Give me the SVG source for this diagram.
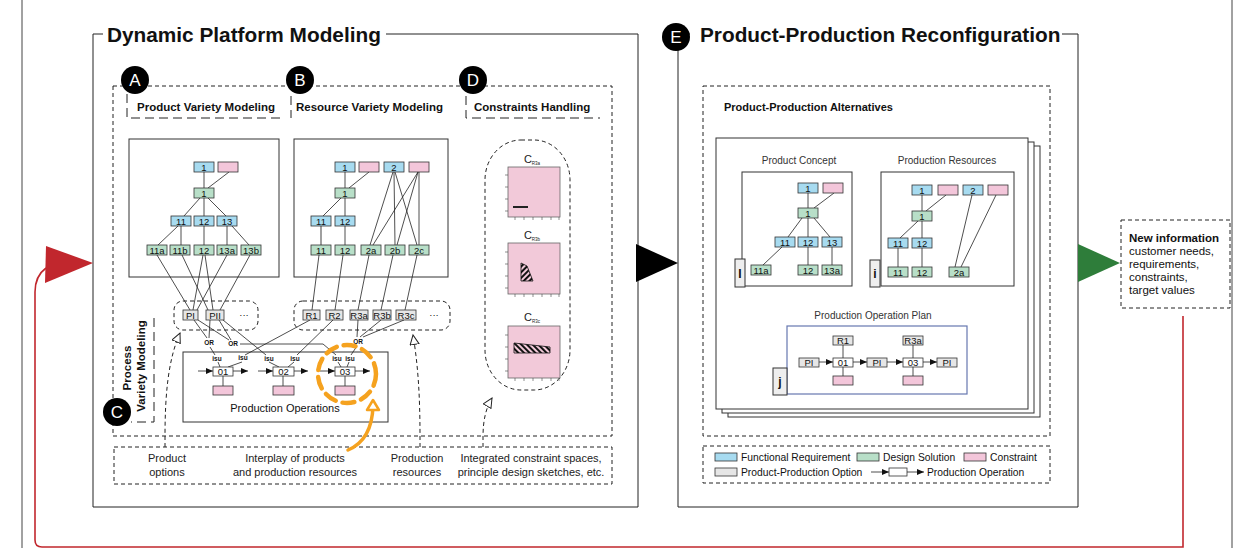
<svg xmlns="http://www.w3.org/2000/svg" width="1243" height="560" viewBox="0 0 1243 560">
<defs>
<style>
text{font-family:"Liberation Sans",Arial,sans-serif;fill:#111}
.title{font-size:20.8px;font-weight:bold}
.hdr{font-size:11.5px;font-weight:bold}
.frame{fill:none;stroke:#222;stroke-width:1}
.dash{fill:none;stroke:#222;stroke-width:1;stroke-dasharray:4 3}
.ldash{fill:none;stroke:#222;stroke-width:1;stroke-dasharray:9 5}
.fr{fill:#A7DBF0;stroke:#333;stroke-width:0.8}
.ds{fill:#B8DFC8;stroke:#333;stroke-width:0.8}
.cn{fill:#F3C6DA;stroke:#333;stroke-width:0.8}
.op{fill:#E6E6E6;stroke:#333;stroke-width:0.8}
.wo{fill:#fff;stroke:#333;stroke-width:0.8}
.nt{font-size:9.5px;text-anchor:middle}
.ln{stroke:#222;stroke-width:0.8;fill:none}
.box{fill:#fff;stroke:#333;stroke-width:1}
.tiny{font-size:6.5px;font-weight:bold;text-anchor:middle}
.lbl{font-size:11px;text-anchor:middle;fill:#222}
.sub{font-size:10px;text-anchor:middle;fill:#333}
.circ{fill:#000}
.ctext{font-size:17px;fill:#fff;text-anchor:middle}
.leg{font-size:10.3px;fill:#111}
.plot{fill:#F2C9D9;stroke:#666;stroke-width:0.8}
.tick{stroke:#444;stroke-width:0.6}
.ct{font-size:11px;text-anchor:middle;fill:#222}
.tab{fill:#EEEEEE;stroke:#333;stroke-width:1}
.tabt{font-size:12px;font-weight:bold;text-anchor:middle}
</style>
<marker id="ah" markerUnits="userSpaceOnUse" markerWidth="7" markerHeight="6" refX="7" refY="3" orient="auto">
<path d="M0,0 L7,3 L0,6 z" fill="#111"/>
</marker>
<marker id="oh" markerUnits="userSpaceOnUse" markerWidth="12" markerHeight="12" refX="10" refY="5" orient="auto">
<path d="M0.5,0.5 L10,5 L0.5,9.5 z" fill="#fff" stroke="#222" stroke-width="1"/>
</marker>
<pattern id="hatchA" patternUnits="userSpaceOnUse" width="4" height="4" patternTransform="rotate(45)">
<rect width="4" height="4" fill="#F2C9D9"/>
<rect width="2" height="4" fill="#111"/>
</pattern>
<pattern id="hatchB" patternUnits="userSpaceOnUse" width="4" height="4" patternTransform="rotate(-45)">
<rect width="4" height="4" fill="#F2C9D9"/>
<rect width="2" height="4" fill="#111"/>
</pattern>
</defs>
<rect width="1243" height="560" fill="#fff"/>

<g id="outer-frame">
<line x1="22" y1="0" x2="22" y2="548" stroke="#444" stroke-width="1"/>
<line x1="1232" y1="0" x2="1232" y2="548" stroke="#444" stroke-width="1"/>
</g>

<!-- Left panel -->
<g id="panel-dpm">
<path class="frame" d="M103,34 H93 V507 H638 V34 H386"/>
<text class="title" x="107" y="42">Dynamic Platform Modeling</text>
<rect class="dash" x="113" y="86" width="499" height="350"/>
<path class="ldash" d="M127,94 V118 H282"/>
<path class="ldash" d="M291,96 V118"/>
<path class="ldash" d="M466,96 V118 H600"/>
<text class="hdr" x="137" y="111">Product Variety Modeling</text>
<text class="hdr" x="296" y="111">Resource Variety Modeling</text>
<text class="hdr" x="474" y="111">Constraints Handling</text>
<g id="badge-A"><circle class="circ" cx="135" cy="80" r="14"/><text class="ctext" x="135" y="86">A</text></g>
<g id="badge-B"><circle class="circ" cx="300" cy="80" r="14"/><text class="ctext" x="300" y="86">B</text></g>
<g id="badge-D"><circle class="circ" cx="473" cy="80" r="14"/><text class="ctext" x="473" y="86">D</text></g>
<path class="ldash" d="M154,318 V422 H131"/>
<text class="hdr" transform="translate(131,368) rotate(-90)" text-anchor="middle">Process</text>
<text class="hdr" transform="translate(145,366) rotate(-90)" text-anchor="middle">Variety Modeling</text>
<g id="badge-C"><circle class="circ" cx="117" cy="412" r="14"/><text class="ctext" x="117" y="418">C</text></g>
<rect class="dash" x="114" y="447" width="498" height="37"/>
<text class="lbl" x="167" y="462">Product</text>
<text class="lbl" x="167" y="476">options</text>
<text class="lbl" x="295" y="462">Interplay of products</text>
<text class="lbl" x="295" y="476">and production resources</text>
<text class="lbl" x="417" y="462">Production</text>
<text class="lbl" x="417" y="476">resources</text>
<text class="lbl" x="531" y="462">Integrated constraint spaces,</text>
<text class="lbl" x="531" y="476">principle design sketches, etc.</text>
</g>

<!-- Product variety tree -->
<g id="product-tree">
<rect class="box" x="129" y="139" width="150" height="138"/>
<g class="ln">
<line x1="204" y1="172" x2="204" y2="188"/>
<line x1="229" y1="172" x2="208" y2="188"/>
<line x1="200" y1="198" x2="184" y2="216"/>
<line x1="204" y1="198" x2="204" y2="216"/>
<line x1="208" y1="198" x2="226" y2="216"/>
<line x1="178" y1="226" x2="158" y2="245"/>
<line x1="181" y1="226" x2="181" y2="245"/>
<line x1="204" y1="226" x2="204" y2="245"/>
<line x1="227" y1="226" x2="227" y2="245"/>
<line x1="232" y1="226" x2="249" y2="245"/>
</g>
<g id="p-fr1"><rect class="fr" x="194" y="162" width="20" height="10"/><text class="nt" x="204" y="170.5">1</text></g>
<g id="p-c1"><rect class="cn" x="218" y="162" width="20" height="10"/></g>
<g id="p-ds1"><rect class="ds" x="194" y="188" width="20" height="10"/><text class="nt" x="204" y="196.5">1</text></g>
<g id="p-fr11"><rect class="fr" x="171" y="216" width="20" height="10"/><text class="nt" x="181" y="224.5">11</text></g>
<g id="p-fr12"><rect class="fr" x="194" y="216" width="20" height="10"/><text class="nt" x="204" y="224.5">12</text></g>
<g id="p-fr13"><rect class="fr" x="217" y="216" width="20" height="10"/><text class="nt" x="227" y="224.5">13</text></g>
<g id="p-ds11a"><rect class="ds" x="147" y="245" width="20" height="10"/><text class="nt" x="157" y="253.5">11a</text></g>
<g id="p-ds11b"><rect class="ds" x="170" y="245" width="20" height="10"/><text class="nt" x="180" y="253.5">11b</text></g>
<g id="p-ds12"><rect class="ds" x="194" y="245" width="20" height="10"/><text class="nt" x="204" y="253.5">12</text></g>
<g id="p-ds13a"><rect class="ds" x="217" y="245" width="20" height="10"/><text class="nt" x="227" y="253.5">13a</text></g>
<g id="p-ds13b"><rect class="ds" x="241" y="245" width="20" height="10"/><text class="nt" x="251" y="253.5">13b</text></g>
</g>

<!-- Resource variety tree -->
<g id="resource-tree">
<rect class="box" x="294" y="139" width="154" height="138"/>
<g class="ln">
<line x1="345" y1="172" x2="345" y2="188"/>
<line x1="369" y1="172" x2="349" y2="188"/>
<line x1="341" y1="198" x2="323" y2="216"/>
<line x1="345" y1="198" x2="345" y2="216"/>
<line x1="321" y1="226" x2="321" y2="245" stroke="#777" stroke-width="1.4"/>
<line x1="345" y1="226" x2="345" y2="245"/>
<line x1="393" y1="172" x2="370" y2="245"/>
<line x1="394" y1="172" x2="395" y2="245"/>
<line x1="395" y1="172" x2="417" y2="245"/>
<line x1="418" y1="172" x2="373" y2="245"/>
<line x1="418" y1="172" x2="397" y2="245"/>
<line x1="419" y1="172" x2="419" y2="245"/>
</g>
<g id="r-fr1"><rect class="fr" x="335" y="162" width="20" height="10"/><text class="nt" x="345" y="170.5">1</text></g>
<g id="r-c1"><rect class="cn" x="359" y="162" width="20" height="10"/></g>
<g id="r-fr2"><rect class="fr" x="384" y="162" width="20" height="10"/><text class="nt" x="394" y="170.5">2</text></g>
<g id="r-c2"><rect class="cn" x="409" y="162" width="20" height="10"/></g>
<g id="r-ds1"><rect class="ds" x="335" y="188" width="20" height="10"/><text class="nt" x="345" y="196.5">1</text></g>
<g id="r-fr11"><rect class="fr" x="311" y="216" width="20" height="10"/><text class="nt" x="321" y="224.5">11</text></g>
<g id="r-fr12"><rect class="fr" x="335" y="216" width="20" height="10"/><text class="nt" x="345" y="224.5">12</text></g>
<g id="r-ds11"><rect class="ds" x="311" y="245" width="20" height="10"/><text class="nt" x="321" y="253.5">11</text></g>
<g id="r-ds12"><rect class="ds" x="335" y="245" width="20" height="10"/><text class="nt" x="345" y="253.5">12</text></g>
<g id="r-ds2a"><rect class="ds" x="361" y="245" width="20" height="10"/><text class="nt" x="371" y="253.5">2a</text></g>
<g id="r-ds2b"><rect class="ds" x="385" y="245" width="20" height="10"/><text class="nt" x="395" y="253.5">2b</text></g>
<g id="r-ds2c"><rect class="ds" x="409" y="245" width="20" height="10"/><text class="nt" x="419" y="253.5">2c</text></g>
</g>

<!-- Production operations container (drawn before connectors) -->
<g id="production-operations-box">
<rect class="box" x="183" y="352" width="205" height="70"/>
<text x="285" y="412" font-size="11" text-anchor="middle" fill="#444">Production Operations</text>
</g>

<!-- Connectors (left panel) -->
<g id="connectors-left" class="ln">
<line x1="157" y1="255" x2="190" y2="310"/>
<line x1="182" y1="255" x2="208" y2="310"/>
<line x1="203" y1="255" x2="193" y2="310"/>
<line x1="205" y1="255" x2="213" y2="310"/>
<line x1="227" y1="255" x2="197" y2="310"/>
<line x1="250" y1="255" x2="220" y2="310"/>
<line x1="319" y1="255" x2="312" y2="310"/>
<line x1="343" y1="255" x2="335" y2="310"/>
<line x1="369" y1="255" x2="358" y2="310"/>
<line x1="393" y1="255" x2="381" y2="310"/>
<line x1="417" y1="255" x2="405" y2="310"/>
<line x1="194" y1="320" x2="207" y2="338"/>
<line x1="210" y1="320" x2="209" y2="338"/>
<line x1="198" y1="320" x2="229" y2="340"/>
<line x1="219" y1="320" x2="231" y2="340"/>
<line x1="223" y1="320" x2="266" y2="355"/>
<line x1="210" y1="347" x2="215" y2="355"/>
<polyline points="240,344 323,344 336,355"/>
<line x1="310" y1="320" x2="245" y2="355"/>
<line x1="333" y1="320" x2="297" y2="355"/>
<line x1="358" y1="320" x2="357" y2="337"/>
<line x1="381" y1="320" x2="360" y2="337"/>
<line x1="404" y1="320" x2="363" y2="337"/>
<line x1="357" y1="346" x2="351" y2="355"/>
<line x1="218" y1="362" x2="220" y2="367"/>
<line x1="242" y1="362" x2="228" y2="367"/>
<line x1="269" y1="362" x2="279" y2="367"/>
<line x1="294" y1="362" x2="288" y2="367"/>
<line x1="338" y1="362" x2="341" y2="367"/>
<line x1="349" y1="362" x2="347" y2="367"/>
<line x1="223" y1="376" x2="223" y2="386"/>
<line x1="283" y1="376" x2="283" y2="386"/>
<line x1="345" y1="376" x2="345" y2="386"/>
<line x1="198" y1="371" x2="213" y2="371" marker-end="url(#ah)"/>
<line x1="233" y1="371" x2="248" y2="371" marker-end="url(#ah)"/>
<line x1="258" y1="371" x2="273" y2="371" marker-end="url(#ah)"/>
<line x1="294" y1="371" x2="308" y2="371" marker-end="url(#ah)"/>
<line x1="320" y1="371" x2="335" y2="371" marker-end="url(#ah)"/>
<line x1="355" y1="371" x2="370" y2="371" marker-end="url(#ah)"/>
<path class="dash" d="M165,447 V437 C165,395 168,360 180,333" marker-end="url(#oh)"/>
<path class="dash" d="M420,447 V437 C420,395 418,365 413,335" marker-end="url(#oh)"/>
<path class="dash" d="M483,447 V437 C483,420 486,408 492,398" marker-end="url(#oh)"/>
</g>

<!-- Options -->
<g id="product-options">
<rect class="dash" x="174" y="301" width="84" height="29" rx="9"/>
<g id="opt-PI"><rect class="op" x="183" y="310" width="15" height="10"/><text class="nt" x="190.5" y="318.5">PI</text></g>
<g id="opt-PII"><rect class="op" x="206" y="310" width="18" height="10"/><text class="nt" x="215" y="318.5">PII</text></g>
<text class="nt" x="244" y="318">···</text>
</g>
<g id="resource-options">
<rect class="dash" x="294" y="301" width="156" height="29" rx="9"/>
<g id="opt-R1"><rect class="op" x="303" y="310" width="17" height="10"/><text class="nt" x="311.5" y="318.5">R1</text></g>
<g id="opt-R2"><rect class="op" x="326" y="310" width="17" height="10"/><text class="nt" x="334.5" y="318.5">R2</text></g>
<g id="opt-R3a"><rect class="op" x="350" y="310" width="18" height="10"/><text class="nt" x="359" y="318.5">R3a</text></g>
<g id="opt-R3b"><rect class="op" x="373" y="310" width="18" height="10"/><text class="nt" x="382" y="318.5">R3b</text></g>
<g id="opt-R3c"><rect class="op" x="396" y="310" width="20" height="10"/><text class="nt" x="406" y="318.5">R3c</text></g>
<text class="nt" x="434" y="318">···</text>
</g>

<!-- Production operations nodes -->
<g id="production-operations">
<g id="op-01"><rect class="wo" x="213" y="367" width="20" height="9"/><text class="nt" x="223" y="375">01</text></g>
<g id="op-02"><rect class="wo" x="273" y="367" width="21" height="9"/><text class="nt" x="283.5" y="375">02</text></g>
<g id="op-03"><rect class="wo" x="335" y="367" width="20" height="9"/><text class="nt" x="345" y="375">03</text></g>
<rect class="cn" x="213" y="386" width="20" height="9"/>
<rect class="cn" x="273" y="386" width="21" height="9"/>
<rect class="cn" x="335" y="386" width="20" height="9"/>
<text class="tiny" x="217" y="361">isu</text>
<text class="tiny" x="243" y="360">isu</text>
<text class="tiny" x="269" y="361">isu</text>
<text class="tiny" x="295" y="361">isu</text>
<text class="tiny" x="337" y="361">isu</text>
<text class="tiny" x="350" y="361">isu</text>
<text class="tiny" x="209" y="345">OR</text>
<text class="tiny" x="233" y="346">OR</text>
<text class="tiny" x="358" y="344">OR</text>
</g>

<g id="highlight">
<circle cx="347" cy="374" r="29" fill="none" stroke="#F5A21F" stroke-width="4.5" stroke-dasharray="12 7" stroke-linecap="round"/>
<path d="M348,450 Q372,440 373,406" fill="none" stroke="#F5A21F" stroke-width="3.5" stroke-linecap="round"/>
<path d="M367,410 L373,400 L379,410 Z" fill="#fff" stroke="#F5A21F" stroke-width="2.5" stroke-linejoin="round"/>
</g>

<!-- Constraints handling -->
<g id="constraints">
<rect class="dash" x="485" y="140" width="85" height="250" rx="36" ry="40"/>
<g id="chart-R3a">
<text class="ct" x="532" y="163">C<tspan font-size="4.5" dy="1.5">R3a</tspan></text>
<rect class="plot" x="508" y="167" width="52" height="50"/>
<g class="tick"><line x1="505" y1="175" x2="508" y2="175"/><line x1="505" y1="187" x2="508" y2="187"/><line x1="505" y1="199" x2="508" y2="199"/><line x1="505" y1="211" x2="508" y2="211"/>
<line x1="515" y1="217" x2="515" y2="220"/><line x1="524" y1="217" x2="524" y2="220"/><line x1="533" y1="217" x2="533" y2="220"/><line x1="542" y1="217" x2="542" y2="220"/><line x1="551" y1="217" x2="551" y2="220"/><line x1="559" y1="217" x2="559" y2="220"/></g>
<line x1="513" y1="207" x2="528" y2="207" stroke="#222" stroke-width="2"/>
</g>
<g id="chart-R3b">
<text class="ct" x="532" y="239">C<tspan font-size="4.5" dy="1.5">R3b</tspan></text>
<rect class="plot" x="508" y="243" width="52" height="51"/>
<g class="tick"><line x1="505" y1="252" x2="508" y2="252"/><line x1="505" y1="264" x2="508" y2="264"/><line x1="505" y1="276" x2="508" y2="276"/><line x1="505" y1="288" x2="508" y2="288"/>
<line x1="515" y1="294" x2="515" y2="297"/><line x1="524" y1="294" x2="524" y2="297"/><line x1="533" y1="294" x2="533" y2="297"/><line x1="542" y1="294" x2="542" y2="297"/><line x1="551" y1="294" x2="551" y2="297"/><line x1="559" y1="294" x2="559" y2="297"/></g>
<polygon points="521,263 527,266 533,281 521,281" fill="url(#hatchA)" stroke="#111" stroke-width="0.8"/>
</g>
<g id="chart-R3c">
<text class="ct" x="532" y="321">C<tspan font-size="4.5" dy="1.5">R3c</tspan></text>
<rect class="plot" x="508" y="326" width="52" height="52"/>
<g class="tick"><line x1="505" y1="335" x2="508" y2="335"/><line x1="505" y1="347" x2="508" y2="347"/><line x1="505" y1="359" x2="508" y2="359"/><line x1="505" y1="371" x2="508" y2="371"/>
<line x1="515" y1="378" x2="515" y2="381"/><line x1="524" y1="378" x2="524" y2="381"/><line x1="533" y1="378" x2="533" y2="381"/><line x1="542" y1="378" x2="542" y2="381"/><line x1="551" y1="378" x2="551" y2="381"/><line x1="559" y1="378" x2="559" y2="381"/></g>
<polygon points="514,343 550,347 550,353 514,353" fill="url(#hatchB)" stroke="#111" stroke-width="0.8"/>
</g>
</g>

<!-- Right panel -->
<g id="panel-ppr">
<path class="frame" d="M690,34 H678 V507 H1078 V34 H1062"/>
<text class="title" x="700" y="42">Product-Production Reconfiguration</text>
<g id="badge-E"><circle class="circ" cx="676" cy="37" r="14"/><text class="ctext" x="676" y="43">E</text></g>
<rect class="dash" x="703" y="86" width="347" height="350"/>
<text x="724" y="111" font-size="11" font-weight="bold">Product-Production Alternatives</text>
<rect class="box" x="728" y="146" width="312" height="271"/>
<rect class="box" x="722" y="142" width="312" height="271"/>
<rect class="box" x="716" y="138" width="312" height="271"/>
</g>

<g id="product-concept">
<text class="sub" x="799" y="164">Product Concept</text>
<rect class="box" x="742" y="172" width="110" height="114"/>
<g class="ln">
<line x1="808" y1="193" x2="808" y2="208"/>
<line x1="834" y1="193" x2="814" y2="208"/>
<line x1="802" y1="218" x2="788" y2="237"/>
<line x1="808" y1="218" x2="808" y2="237"/>
<line x1="814" y1="218" x2="830" y2="237"/>
<line x1="782" y1="247" x2="763" y2="265"/>
<line x1="808" y1="247" x2="808" y2="265"/>
<line x1="832" y1="247" x2="832" y2="265"/>
</g>
<g id="pc-fr1"><rect class="fr" x="798" y="183" width="20" height="10"/><text class="nt" x="808" y="191.5">1</text></g>
<g id="pc-c1"><rect class="cn" x="823" y="183" width="20" height="10"/></g>
<g id="pc-ds1"><rect class="ds" x="798" y="208" width="20" height="10"/><text class="nt" x="808" y="216.5">1</text></g>
<g id="pc-fr11"><rect class="fr" x="775" y="237" width="20" height="10"/><text class="nt" x="785" y="245.5">11</text></g>
<g id="pc-fr12"><rect class="fr" x="798" y="237" width="20" height="10"/><text class="nt" x="808" y="245.5">12</text></g>
<g id="pc-fr13"><rect class="fr" x="822" y="237" width="20" height="10"/><text class="nt" x="832" y="245.5">13</text></g>
<g id="pc-ds11a"><rect class="ds" x="751" y="265" width="20" height="10"/><text class="nt" x="761" y="273.5">11a</text></g>
<g id="pc-ds12"><rect class="ds" x="798" y="265" width="20" height="10"/><text class="nt" x="808" y="273.5">12</text></g>
<g id="pc-ds13a"><rect class="ds" x="822" y="265" width="20" height="10"/><text class="nt" x="832" y="273.5">13a</text></g>
<g id="tab-l"><rect class="tab" x="735" y="259" width="10" height="28"/><text class="tabt" x="740" y="278">I</text></g>
</g>

<g id="production-resources">
<text class="sub" x="947" y="164">Production Resources</text>
<rect class="box" x="881" y="172" width="133" height="114"/>
<g class="ln">
<line x1="922" y1="195" x2="922" y2="211"/>
<line x1="946" y1="195" x2="926" y2="211"/>
<line x1="918" y1="221" x2="900" y2="238"/>
<line x1="922" y1="221" x2="922" y2="238"/>
<line x1="898" y1="248" x2="898" y2="267"/>
<line x1="922" y1="248" x2="922" y2="267"/>
<line x1="972" y1="195" x2="955" y2="267"/>
<line x1="996" y1="195" x2="961" y2="267"/>
</g>
<g id="pr-fr1"><rect class="fr" x="912" y="185" width="20" height="10"/><text class="nt" x="922" y="193.5">1</text></g>
<g id="pr-c1"><rect class="cn" x="938" y="185" width="20" height="10"/></g>
<g id="pr-fr2"><rect class="fr" x="963" y="185" width="20" height="10"/><text class="nt" x="973" y="193.5">2</text></g>
<g id="pr-c2"><rect class="cn" x="988" y="185" width="20" height="10"/></g>
<g id="pr-ds1"><rect class="ds" x="912" y="211" width="20" height="10"/><text class="nt" x="922" y="219.5">1</text></g>
<g id="pr-fr11"><rect class="fr" x="888" y="238" width="20" height="10"/><text class="nt" x="898" y="246.5">11</text></g>
<g id="pr-fr12"><rect class="fr" x="912" y="238" width="20" height="10"/><text class="nt" x="922" y="246.5">12</text></g>
<g id="pr-ds11"><rect class="ds" x="888" y="267" width="20" height="10"/><text class="nt" x="898" y="275.5">11</text></g>
<g id="pr-ds12"><rect class="ds" x="912" y="267" width="20" height="10"/><text class="nt" x="922" y="275.5">12</text></g>
<g id="pr-ds2a"><rect class="ds" x="949" y="267" width="20" height="10"/><text class="nt" x="959" y="275.5">2a</text></g>
<g id="tab-i"><rect class="tab" x="870" y="260" width="10" height="27"/><text class="tabt" x="875" y="278">i</text></g>
</g>

<g id="production-operation-plan">
<text class="sub" x="873" y="319">Production Operation Plan</text>
<rect x="787" y="326" width="180" height="68" fill="#fff" stroke="#6677B0" stroke-width="1.2"/>
<g class="ln">
<line x1="843" y1="345" x2="843" y2="358"/>
<line x1="843" y1="367" x2="843" y2="376"/>
<line x1="913" y1="345" x2="913" y2="358"/>
<line x1="913" y1="367" x2="913" y2="376"/>
<line x1="819" y1="362" x2="833" y2="362" marker-end="url(#ah)"/>
<line x1="853" y1="362" x2="867" y2="362" marker-end="url(#ah)"/>
<line x1="887" y1="362" x2="903" y2="362" marker-end="url(#ah)"/>
<line x1="923" y1="362" x2="937" y2="362" marker-end="url(#ah)"/>
</g>
<g id="pop-R1"><rect class="op" x="833" y="336" width="20" height="9"/><text class="nt" x="843" y="344">R1</text></g>
<g id="pop-R3a"><rect class="op" x="903" y="336" width="20" height="9"/><text class="nt" x="913" y="344">R3a</text></g>
<g id="pop-PI1"><rect class="op" x="799" y="358" width="20" height="9"/><text class="nt" x="809" y="366">PI</text></g>
<g id="pop-01"><rect class="wo" x="833" y="358" width="20" height="9"/><text class="nt" x="843" y="366">01</text></g>
<g id="pop-PI2"><rect class="op" x="867" y="358" width="20" height="9"/><text class="nt" x="877" y="366">PI</text></g>
<g id="pop-03"><rect class="wo" x="903" y="358" width="20" height="9"/><text class="nt" x="913" y="366">03</text></g>
<g id="pop-PI3"><rect class="op" x="937" y="358" width="20" height="9"/><text class="nt" x="947" y="366">PI</text></g>
<rect class="cn" x="833" y="376" width="20" height="9"/>
<rect class="cn" x="903" y="376" width="20" height="9"/>
<g id="tab-j"><rect class="tab" x="773" y="368" width="14" height="27"/><text class="tabt" x="780" y="386">j</text></g>
</g>

<g id="legend">
<rect class="dash" x="703" y="446" width="347" height="37"/>
<rect class="fr" x="715" y="453" width="22" height="8"/>
<text class="leg" x="741" y="461">Functional Requirement</text>
<rect class="ds" x="857" y="453" width="22" height="8"/>
<text class="leg" x="883" y="461">Design Solution</text>
<rect class="cn" x="964" y="453" width="22" height="8"/>
<text class="leg" x="990" y="461">Constraint</text>
<rect class="op" x="715" y="468" width="22" height="8"/>
<text class="leg" x="741" y="476">Product-Production Option</text>
<line class="ln" x1="871" y1="472" x2="889" y2="472" marker-end="url(#ah)"/>
<rect class="wo" x="889" y="468" width="18" height="8"/>
<line class="ln" x1="907" y1="472" x2="924" y2="472" marker-end="url(#ah)"/>
<text class="leg" x="927" y="476">Production Operation</text>
</g>

<g id="new-information">
<rect class="dash" x="1121" y="220" width="109" height="88"/>
<text x="1129" y="242" font-size="11.5" font-weight="bold">New information</text>
<text x="1129" y="255" font-size="11.5">customer needs,</text>
<text x="1129" y="268" font-size="11.5">requirements,</text>
<text x="1129" y="281" font-size="11.5">constraints,</text>
<text x="1129" y="294" font-size="11.5">target values</text>
</g>

<g id="connectors-main">
<polygon points="636,244 678,263 636,282" fill="#000"/>
<polygon points="1078,244 1120,263 1078,282" fill="#2E7D3A"/>
<path d="M1183,316 V547 H42 Q35,547 35,540 V292 Q35,276 46,268" fill="none" stroke="#C1272D" stroke-width="1.6"/>
<polygon points="46,246 93,263 45,283" fill="#C1272D"/>
</g>
</svg>
